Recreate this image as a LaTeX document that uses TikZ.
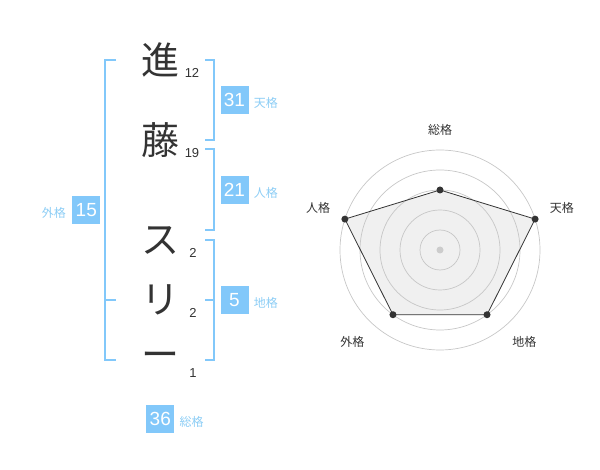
\documentclass[tikz,border=0pt]{standalone}
\usepackage{fontspec}
\setmainfont{Liberation Sans}
\newfontfamily\jpfont{Noto Sans CJK JP}
\usetikzlibrary{positioning}
\definecolor{kakublue}{RGB}{130,200,250}
\definecolor{labelblue}{RGB}{140,205,245}
\definecolor{inkgray}{RGB}{51,51,51}

\begin{document}
\begin{tikzpicture}[x=1pt, y=-1pt,
    moji/.style={inner sep=0, text=inkgray, font=\jpfont\fontsize{38}{38}\selectfont},
    kakusu/.style={inner sep=0, text=inkgray, font=\fontsize{13}{13}\selectfont},
    valbox/.style={fill=kakublue, minimum size=28pt, inner sep=0, text=white, font=\fontsize{19}{19}\selectfont},
    valname/.style={inner sep=0, text=labelblue, font=\jpfont\fontsize{12}{12}\selectfont},
    bracket/.style={draw=kakublue, line width=2pt},
    ring/.style={draw=black!22, line width=0.7pt},
    axisname/.style={inner sep=0, text=inkgray, font=\jpfont\fontsize{12}{12}\selectfont}]
    \useasboundingbox (0,0) rectangle (600,470);

    % Define nodes
    \node[moji] (c1) at (160,60) {進};
    \node[moji] (c2) at (160,140) {藤};
    \node[moji] (c3) at (160,241) {ス};
    \node[moji] (c4) at (160,300) {リ};
    \node[moji] (c5) at (160,360) {ー};
    \node[kakusu] (n1) at (192,73) {12};
    \node[kakusu] (n2) at (192,153) {19};
    \node[kakusu] (n3) at (193,253) {2};
    \node[kakusu] (n4) at (193,313) {2};
    \node[kakusu] (n5) at (193,373) {1};

    % Brackets
    \draw[bracket] (116,60) -- (105,60) -- (105,360) -- (116,360);
    \draw[bracket] (105,300) -- (116,300);
    \draw[bracket] (205,60) -- (214,60) -- (214,140) -- (205,140);
    \draw[bracket] (205,149) -- (214,149) -- (214,230) -- (205,230);
    \draw[bracket] (205,240) -- (214,240) -- (214,360) -- (205,360);
    \draw[bracket] (205,300) -- (214,300);

    % Values
    \node[valbox] (ten) at (234.5,100) {31};
    \node[valname, right=5pt of ten, yshift=-3pt] (tenname) {天格};
    \node[valbox] (jin) at (234.5,190) {21};
    \node[valname, right=5pt of jin, yshift=-3pt] (jinname) {人格};
    \node[valbox] (chi) at (234.5,300) {5};
    \node[valname, right=5pt of chi, yshift=-3pt] (chiname) {地格};
    \node[valbox] (gai) at (86.3,210.3) {15};
    \node[valname, left=6pt of gai, yshift=-3pt] (gainame) {外格};
    \node[valbox] (sou) at (160.3,419) {36};
    \node[valname, right=5pt of sou, yshift=-3pt] (souname) {総格};

    % Radar chart
    \begin{scope}[shift={(440,250)}]
        \coordinate (p1) at (-90:60);
        \coordinate (p2) at (-18:100);
        \coordinate (p3) at (54:80);
        \coordinate (p4) at (126:80);
        \coordinate (p5) at (198:100);
        \fill[black!6] (p1) -- (p2) -- (p3) -- (p4) -- (p5) -- cycle;
        \foreach \r in {20,40,60,80,100}
            \draw[ring] (0,0) circle (\r);
        \fill[black!20] (0,0) circle (3.5);
        \draw[inkgray, line width=0.8pt] (p1) -- (p2) -- (p3) -- (p4) -- (p5) -- cycle;
        \foreach \p in {p1,p2,p3,p4,p5}
            \fill[inkgray] (\p) circle (3.5);
        \node[axisname] (ax1) at (-90:120) {総格};
        \node[axisname] (ax2) at (-19:129) {天格};
        \node[axisname] (ax3) at (47.6:125) {地格};
        \node[axisname] (ax4) at (133.7:127) {外格};
        \node[axisname] (ax5) at (199:129) {人格};
    \end{scope}
\end{tikzpicture}
\end{document}
